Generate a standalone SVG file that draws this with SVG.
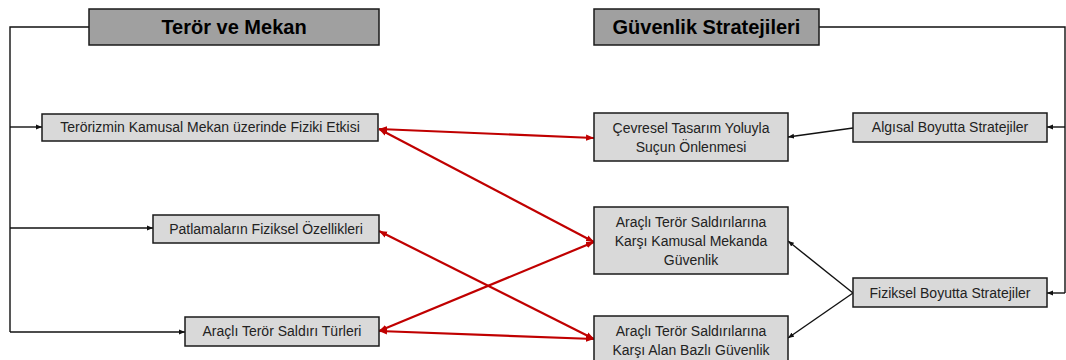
<svg xmlns="http://www.w3.org/2000/svg" width="1066" height="360" viewBox="0 0 1066 360">
  <style>
    .title rect { fill: #a0a0a0; stroke: #1a1a1a; stroke-width: 1.5; }
    .node rect { fill: #d9d9d9; stroke: #1a1a1a; stroke-width: 1.5; }
    .title text { font-family: "Liberation Sans", Arial, sans-serif; font-size: 20px; font-weight: bold; fill: #000; text-anchor: middle; }
    .node text { font-family: "Liberation Sans", Arial, sans-serif; font-size: 14px; fill: #222; text-anchor: middle; }
    .blk { fill: none; stroke: #111; stroke-width: 1.4; }
    .red { fill: none; stroke: #c00000; stroke-width: 2.2; }
  </style>
  <defs>
    <marker id="ah" viewBox="0 0 10 10" refX="10" refY="5" markerWidth="6" markerHeight="6" markerUnits="userSpaceOnUse" orient="auto">
      <path d="M0,1 L10,5 L0,9 Z" fill="#111"/>
    </marker>
    <marker id="rh" viewBox="0 0 10 10" refX="10" refY="5" markerWidth="8" markerHeight="8" markerUnits="userSpaceOnUse" orient="auto-start-reverse">
      <path d="M0,1 L10,5 L0,9 Z" fill="#c00000"/>
    </marker>
  </defs>

  <!-- connectors -->
  <g id="connectors">
    <!-- left trunk -->
    <path class="blk" d="M89,27 H10 V332"/>
    <path class="blk" d="M10,127 H42" marker-end="url(#ah)"/>
    <path class="blk" d="M10,228 H153" marker-end="url(#ah)"/>
    <path class="blk" d="M10,332 H185" marker-end="url(#ah)"/>
    <!-- right trunk -->
    <path class="blk" d="M819,27 H1065 V293"/>
    <path class="blk" d="M1065,127 H1047" marker-end="url(#ah)"/>
    <path class="blk" d="M1065,293 H1047" marker-end="url(#ah)"/>
    <path class="blk" d="M853,128 L788,137" marker-end="url(#ah)"/>
    <path class="blk" d="M853,293 L788,241" marker-end="url(#ah)"/>
    <path class="blk" d="M853,293 L788,338" marker-end="url(#ah)"/>
    <!-- red cross links -->
    <path class="red" d="M379,129 L594,138" marker-start="url(#rh)" marker-end="url(#rh)"/>
    <path class="red" d="M379,129 L594,242" marker-start="url(#rh)" marker-end="url(#rh)"/>
    <path class="red" d="M379,231 L594,339" marker-start="url(#rh)" marker-end="url(#rh)"/>
    <path class="red" d="M379,331 L594,242" marker-start="url(#rh)" marker-end="url(#rh)"/>
    <path class="red" d="M379,331 L594,339" marker-start="url(#rh)" marker-end="url(#rh)"/>
  </g>

  <g id="teror-ve-mekan" class="title">
    <rect x="89" y="9" width="290" height="36"/>
    <text x="234" y="34">Terör ve Mekan</text>
  </g>
  <g id="guvenlik-stratejileri" class="title">
    <rect x="594" y="9" width="225" height="36"/>
    <text x="706.5" y="34">Güvenlik Stratejileri</text>
  </g>

  <g id="fiziki-etki" class="node">
    <rect x="42" y="114" width="336" height="27"/>
    <text x="210" y="132">Terörizmin Kamusal Mekan üzerinde Fiziki Etkisi</text>
  </g>
  <g id="patlamalar" class="node">
    <rect x="153" y="215" width="226" height="28"/>
    <text x="266" y="234">Patlamaların Fiziksel Özellikleri</text>
  </g>
  <g id="saldiri-turleri" class="node">
    <rect x="185" y="317" width="194" height="29"/>
    <text x="282" y="336">Araçlı Terör Saldırı Türleri</text>
  </g>

  <g id="cevresel-tasarim" class="node">
    <rect x="594" y="113" width="194" height="48"/>
    <text x="691" y="133">Çevresel Tasarım Yoluyla</text>
    <text x="691" y="152">Suçun Önlenmesi</text>
  </g>
  <g id="kamusal-guvenlik" class="node">
    <rect x="594" y="207" width="194" height="67"/>
    <text x="691" y="227">Araçlı Terör Saldırılarına</text>
    <text x="691" y="246">Karşı Kamusal Mekanda</text>
    <text x="691" y="265">Güvenlik</text>
  </g>
  <g id="alan-bazli-guvenlik" class="node">
    <rect x="594" y="316" width="194" height="50"/>
    <text x="691" y="336">Araçlı Terör Saldırılarına</text>
    <text x="691" y="355">Karşı Alan Bazlı Güvenlik</text>
  </g>

  <g id="algisal-boyut" class="node">
    <rect x="853" y="113" width="194" height="29"/>
    <text x="950" y="132">Algısal Boyutta Stratejiler</text>
  </g>
  <g id="fiziksel-boyut" class="node">
    <rect x="853" y="278" width="194" height="29"/>
    <text x="950" y="298">Fiziksel Boyutta Stratejiler</text>
  </g>
</svg>
